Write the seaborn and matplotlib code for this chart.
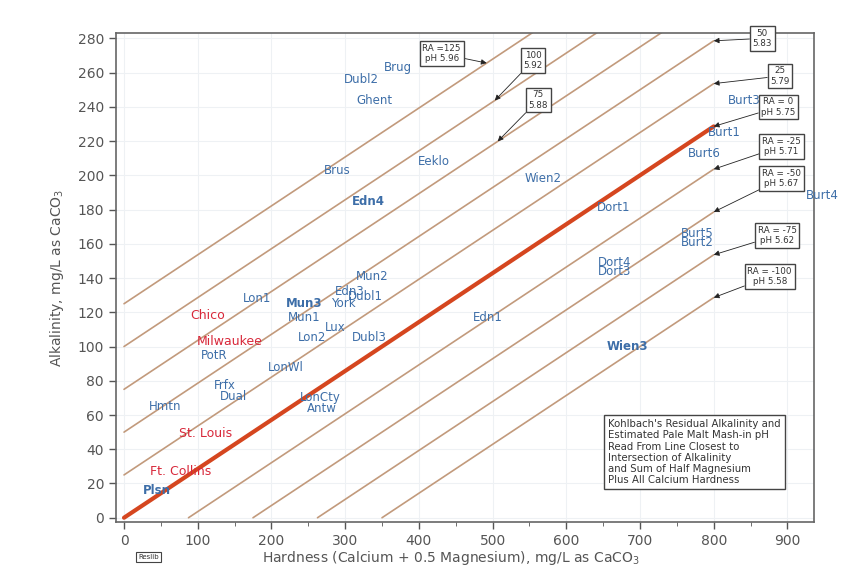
import numpy as np
import pandas as pd
import seaborn as sns
import matplotlib.pyplot as plt

# Residual alkalinity lines and their estimated mash pH
ra_values = [125, 100, 75, 50, 25, 0, -25, -50, -75, -100]
ph_values = [5.96, 5.92, 5.88, 5.83, 5.79, 5.75, 5.71, 5.67, 5.62, 5.58]
box_text = ['RA =125\npH 5.96', '100\n5.92', '75\n5.88', '50\n5.83', '25\n5.79',
            'RA = 0\npH 5.75', 'RA = -25\npH 5.71', 'RA = -50\npH 5.67',
            'RA = -75\npH 5.62', 'RA = -100\npH 5.58']
# where each label box sits (data coords) and hardness where the arrow hits the line
box_x = [431, 555, 562, 866, 890, 888, 892, 892, 886, 876]
box_y = [271, 267, 244, 280, 258, 240, 217, 198, 165, 141]
arrow_hx = [492, 503, 507, 800, 800, 800, 800, 800, 800, 800]

# Brewing cities (red) and water samples (blue)
city_names = ['Chico', 'Milwaukee', 'St. Louis', 'Ft. Collins']
city_hard = [114, 144, 110, 77]
city_alk = [118, 103, 49, 27]

sample_names = ['Brug', 'Dubl2', 'Ghent', 'Brus', 'Eeklo', 'Wien2', 'Edn4', 'Dort1',
                'Burt3', 'Burt1', 'Burt6', 'Burt4', 'Burt5', 'Burt2', 'Dort4', 'Dort3',
                'Mun2', 'Edn3', 'Dubl1', 'York', 'Lon1', 'Mun3', 'Mun1', 'Lon2', 'Lux',
                'Dubl3', 'Edn1', 'Wien3', 'LonWl', 'PotR', 'Frfx', 'Dual', 'Hmtn',
                'LonCty', 'Antw', 'Plsn']
sample_hard = [371, 322, 340, 289, 420, 568, 331, 664,
               841, 814, 787, 947, 778, 778, 665, 665,
               336, 306, 328, 297, 180, 245, 244, 255, 287,
               333, 493, 683, 220, 123, 137, 148, 56,
               266, 268, 45]
sample_alk = [263, 256, 244, 203, 208, 198, 185, 181,
              244, 225, 213, 188, 166, 161, 149, 144,
              141, 132, 129, 125, 128, 125, 117, 105, 111,
              105, 117, 100, 88, 95, 77, 71, 65,
              70, 64, 16]
bold_samples = ['Edn4', 'Mun3', 'Wien3', 'Plsn']

note = ("Kohlbach's Residual Alkalinity and\nEstimated Pale Malt Mash-in pH\n"
        "Read From Line Closest to\nIntersection of Alkalinity\n"
        "and Sum of Half Magnesium\nPlus All Calcium Hardness")

# build line table: alkalinity = RA + hardness / 3.5
rows = []
for ra in ra_values:
    h0 = max(0, -ra * 3.5)
    for h in (h0, 800):
        rows.append({'RA': ra, 'hardness': h, 'alkalinity': ra + h / 3.5})
lines = pd.DataFrame(rows)

sns.set_style('white')
plt.rcParams['font.family'] = ['DejaVu Sans']

fig = plt.figure(figsize=(8.65, 5.73), dpi=100)
ax = fig.add_axes([0.134, 0.089, 0.807, 0.853])

sns.lineplot(data=lines[lines.RA != 0], x='hardness', y='alkalinity', units='RA',
             estimator=None, color='#c29a7c', lw=1.2, ax=ax)
sns.lineplot(data=lines[lines.RA == 0], x='hardness', y='alkalinity',
             estimator=None, color='#d5461f', lw=3, ax=ax)

ax.set_xlim(-11, 936)
ax.set_ylim(-2.5, 283)
ax.set_xticks(range(0, 901, 100))
ax.set_xticks(range(50, 901, 100), minor=True)
ax.set_yticks(range(0, 281, 20))
ax.grid(True, color='#eef1f4', lw=0.8)
ax.tick_params(axis='both', which='major', direction='out', length=5, width=1,
               color='#555555', labelsize=10, labelcolor='#555555', bottom=True, left=True)
ax.tick_params(axis='x', which='minor', direction='out', length=3, color='#555555', bottom=True)
for s in ax.spines.values():
    s.set_color('#666666')
    s.set_linewidth(1.2)

ax.set_xlabel('Hardness (Calcium + 0.5 Magnesium), mg/L as CaCO$_3$', fontsize=10,
              color='#555555')
ax.set_ylabel('Alkalinity, mg/L as CaCO$_3$', fontsize=10, color='#555555', labelpad=8)
ax.xaxis.set_label_coords(0.48, -0.055)

for name, h, a in zip(sample_names, sample_hard, sample_alk):
    ax.text(h, a, name, color='#3d6ea8', fontsize=8.5, ha='center', va='center',
            fontweight='bold' if name in bold_samples else 'normal', clip_on=False)
for name, h, a in zip(city_names, city_hard, city_alk):
    ax.text(h, a, name, color='#d8283a', fontsize=9, ha='center', va='center')

for t, bx, by, hx, ra in zip(box_text, box_x, box_y, arrow_hx, ra_values):
    ax.annotate(t, xy=(hx, ra + hx / 3.5), xytext=(bx, by), fontsize=6.3,
                ha='center', va='center', color='#333333', annotation_clip=False,
                bbox=dict(boxstyle='square,pad=0.3', fc='white', ec='#444444', lw=1),
                arrowprops=dict(arrowstyle='-|>', color='#222222', lw=0.6,
                                mutation_scale=8, shrinkA=0, shrinkB=0))

ax.text(0.705, 0.143, note, transform=ax.transAxes, fontsize=7.3, color='#333333',
        va='center', ha='left', linespacing=1.15,
        bbox=dict(boxstyle='square,pad=0.4', fc='white', ec='#444444', lw=1))

fig.text(0.172, 0.028, 'Reslib', fontsize=5, color='#333333', ha='center', va='center',
         bbox=dict(boxstyle='square,pad=0.3', fc='white', ec='#444444', lw=0.8))

fig.savefig('out.png', dpi=100)
